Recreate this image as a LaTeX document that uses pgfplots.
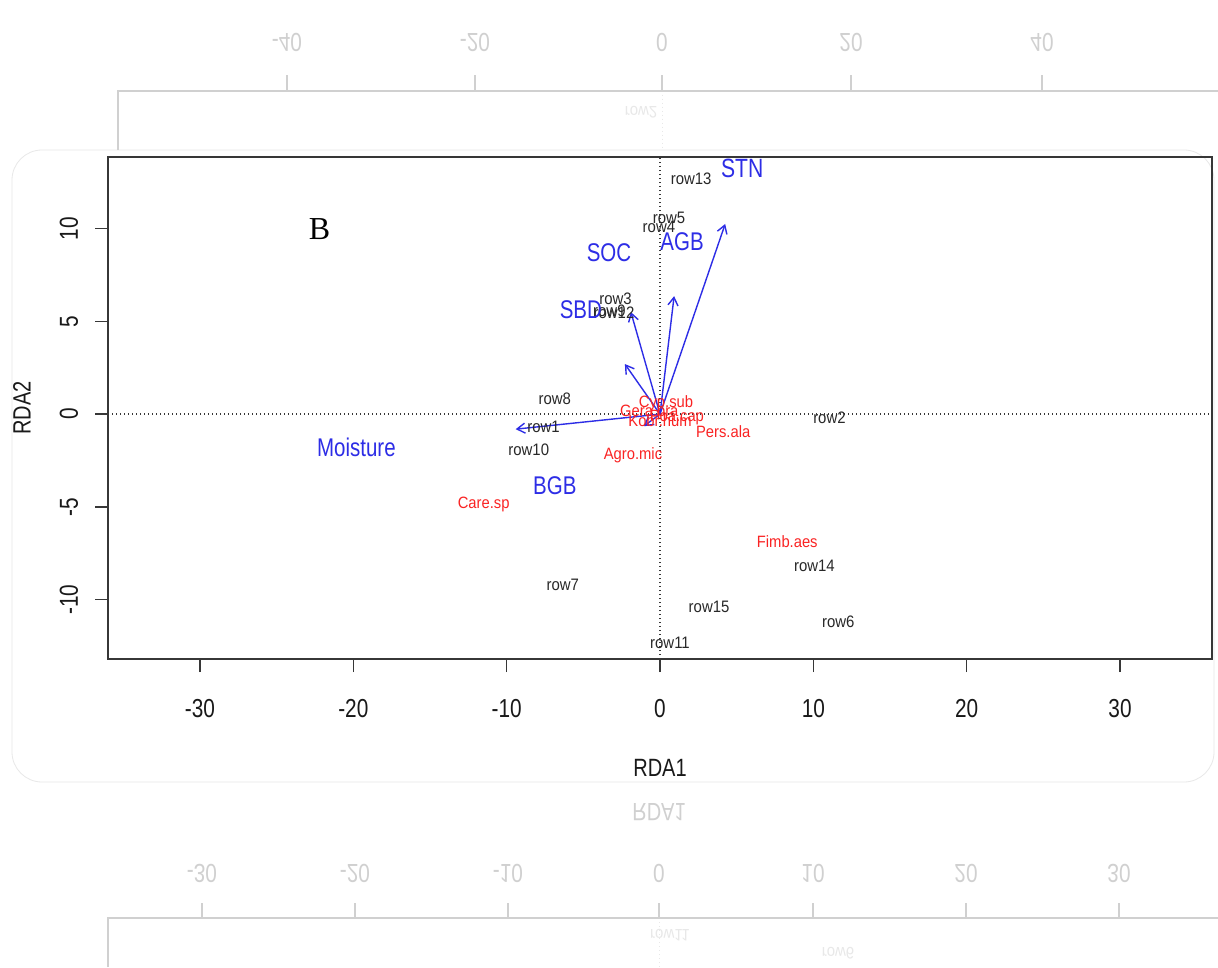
\documentclass[border=0pt]{standalone}
\usepackage{pgfplots}
\pgfplotsset{compat=1.18}
\usepackage{pgfplotstable}
\usepackage{fontspec}
\setmainfont{Liberation Sans}[FakeStretch=0.8]
\newfontfamily\rowf{Liberation Sans}[FakeStretch=0.9]
\newfontfamily\serf{Liberation Serif}
\usetikzlibrary{arrows.meta}
\definecolor{envblue}{RGB}{45,45,230}
\definecolor{sppred}{RGB}{250,35,35}
\definecolor{rowgray}{RGB}{40,40,40}
\definecolor{axgray}{RGB}{55,55,55}
\definecolor{refl}{RGB}{208,208,208}
\definecolor{refll}{RGB}{232,232,232}

\pgfplotstableread{
x y lab
2.03 12.68 row13
0.59 10.6 row5
-0.07 10.1 row4
-2.9 6.2 row3
-3.3 5.55 row9
-3.0 5.45 row12
-6.86 0.8 row8
-7.6 -0.7 row1
-8.56 -1.9 row10
11.05 -0.2 row2
10.07 -8.2 row14
-6.34 -9.22 row7
3.2 -10.41 row15
11.63 -11.22 row6
0.65 -12.35 row11
}\sites

\pgfplotstableread{
x y lab
-11.5 -4.85 Care.sp
8.3 -6.85 Fimb.aes
-1.76 -2.21 Agro.mic
4.12 -0.92 Pers.ala
-0.7 0.1 Gera.pra
1.1 -0.2 Poa.cap
0.0 -0.35 Kobr.hum
0.39 0.59 Cyp.sub
}\species

\pgfplotstableread{
x y lab
1.44 9.28 AGB
-3.33 8.68 SOC
-5.16 5.61 SBD
-19.8 -1.78 Moisture
-6.86 -3.88 BGB
}\envlab

\begin{document}
\begin{tikzpicture}
\begin{scope}[x=0.5pt,y=-0.5pt]
\fill[white] (0,0) rectangle (1218,967);
\draw[refll, fill=white, rounded corners=15pt] (12,150) rectangle (1214,782);
% top reflection
\draw[refll, dash pattern=on 0.7pt off 1.3pt] (662,91) -- (662,150);
\draw[refl, line width=1pt] (118,150) -- (118,91) -- (1218,91);
\foreach \xx/\lab in {287/-40,475/-20,662/0,851/20,1042/40}{
  \draw[refl, line width=0.8pt] (\xx,91) -- (\xx,75);
  \node[text=refl, yscale=-1, font=\fontsize{13}{15}\selectfont] at (\xx,42) {\lab};
}
\node[text=refll, yscale=-1, font=\rowf\fontsize{8.3}{10}\selectfont] at (641,112) {row2};
% bottom reflection
\draw[refll, dash pattern=on 0.7pt off 1.3pt] (659,918) -- (659,967);
\draw[refl, line width=1pt] (108,967) -- (108,918) -- (1218,918);
\foreach \xx/\lab in {202/-30,355/-20,508/-10,659/0,813/10,966/20,1119/30}{
  \draw[refl, line width=0.8pt] (\xx,918) -- (\xx,903);
  \node[text=refl, yscale=-1, font=\fontsize{13}{15}\selectfont] at (\xx,873) {\lab};
}
\node[text=refl, yscale=-1, font=\fontsize{12.5}{15}\selectfont] at (659,812) {RDA1};
\node[text=refll, yscale=-1, font=\rowf\fontsize{8.3}{10}\selectfont] at (670,935) {row11};
\node[text=refll, yscale=-1, font=\rowf\fontsize{8.3}{10}\selectfont] at (838,953) {row6};
\end{scope}

\begin{axis}[
  at={(54pt,-329.5pt)}, anchor=south west,
  scale only axis, width=552pt, height=251pt,
  xmin=-36, xmax=36, ymin=-13.2, ymax=13.86,
  axis line style={axgray, line width=1pt},
  tick style={axgray, line width=0.8pt},
  tick align=outside, tick pos=left, major tick length=6.5pt,
  xtick={-30,-20,-10,0,10,20,30},
  xticklabels={-30,-20,-10,0,10,20,30},
  ytick={-10,-5,0,5,10},
  yticklabels={-10,-5,0,5,10},
  x tick label style={font=\fontsize{13}{15}\selectfont, text=black!90, anchor=center, inner sep=0pt},
  xticklabel shift=18.5pt,
  y tick label style={font=\fontsize{13}{15}\selectfont, text=black!90, rotate=90, anchor=center, inner sep=0pt},
  yticklabel shift=13pt,
  xlabel={RDA1}, ylabel={RDA2},
  xlabel style={at={(axis description cs:0.5,-0.217)}, anchor=center, font=\fontsize{12.5}{15}\selectfont, text=black!90},
  ylabel style={at={(axis description cs:-0.0779,0.5)}, anchor=center, font=\fontsize{12.5}{15}\selectfont, text=black!90},
  clip=false,
]
\addplot[axgray, dash pattern=on 0.7pt off 1.3pt, line width=0.7pt] coordinates {(-36,0) (36,0)};
\addplot[axgray, dash pattern=on 0.7pt off 1.3pt, line width=0.7pt] coordinates {(0,-13.2) (0,13.86)};
% species labels (red)
\addplot[only marks, mark=none, nodes near coords, point meta=explicit symbolic,
  every node near coord/.append style={anchor=center, inner sep=0pt, text=sppred, font=\rowf\fontsize{8.2}{10}\selectfont}]
  table[x=x, y=y, meta=lab] {\species};
% environmental arrows
\addplot[envblue, line width=0.7pt, -{Straight Barb[length=4pt, width=5pt]}] coordinates {(0,0) (4.25,10.25)};
\addplot[envblue, line width=0.7pt, -{Straight Barb[length=4pt, width=5pt]}] coordinates {(0,0) (0.92,6.36)};
\addplot[envblue, line width=0.7pt, -{Straight Barb[length=4pt, width=5pt]}] coordinates {(0,0) (-1.9,5.5)};
\addplot[envblue, line width=0.7pt, -{Straight Barb[length=4pt, width=5pt]}] coordinates {(0,0) (-2.29,2.7)};
\addplot[envblue, line width=0.7pt, -{Straight Barb[length=4pt, width=5pt]}] coordinates {(0,0) (-9.41,-0.81)};
\addplot[envblue, line width=0.7pt, -{Straight Barb[length=4pt, width=5pt]}] coordinates {(0,0) (-1.05,-0.65)};
% site labels
\addplot[only marks, mark=none, nodes near coords, point meta=explicit symbolic,
  every node near coord/.append style={anchor=center, inner sep=0pt, text=rowgray, font=\rowf\fontsize{8.3}{10}\selectfont}]
  table[x=x, y=y, meta=lab] {\sites};
% environmental labels
\addplot[only marks, mark=none, nodes near coords, point meta=explicit symbolic,
  every node near coord/.append style={anchor=center, inner sep=0pt, text=envblue, font=\fontsize{12.8}{15}\selectfont}]
  table[x=x, y=y, meta=lab] {\envlab};
\addplot[only marks, mark=none, nodes near coords, point meta=explicit symbolic,
  every node near coord/.append style={anchor=center, inner sep=0pt, text=envblue, font=\fontsize{13.2}{15}\selectfont}]
  table[meta=lab] {
x y lab
5.36 13.27 STN
};
\node[font=\serf\fontsize{16}{18}\selectfont, text=black] at (axis cs:-22.2,10) {B};
\end{axis}
\pgfresetboundingbox
\path[use as bounding box] (0,0) rectangle (609pt,-483.5pt);
\end{tikzpicture}
\end{document}
